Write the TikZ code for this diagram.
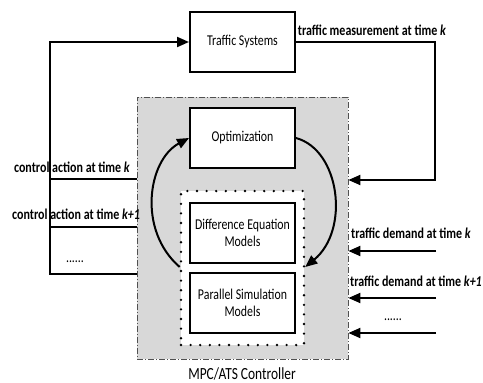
\documentclass[tikz,border=0pt]{standalone}
\usepackage{fontspec}
\setmainfont{Carlito}
\newfontfamily\boxfont[FakeStretch=0.79]{Carlito}
\newfontfamily\lblfont[FakeStretch=0.8]{Carlito}
\usetikzlibrary{arrows.meta}
\definecolor{ctrlgray}{HTML}{D8D8D8}
\definecolor{edgegray}{HTML}{505050}

\begin{document}
\begin{tikzpicture}[x=1pt,y=-1pt,
  sysbox/.style={draw=black, line width=2pt, fill=white, minimum width=105pt,
    minimum height=60pt, inner sep=0pt, align=center,
    font=\boxfont\fontsize{15}{17.5}\selectfont},
  ctrlbox/.style={draw=edgegray, line width=0.8pt, fill=ctrlgray,
    dash pattern=on 6pt off 2pt on 1pt off 2pt, minimum width=211pt,
    minimum height=262pt, inner sep=0pt},
  modelbox/.style={draw=black, line width=2.6pt, fill=white,
    dash pattern=on 0pt off 9.6pt, line cap=round, minimum width=123pt,
    minimum height=154pt, inner sep=0pt},
  flow/.style={draw=black, line width=2pt},
  tip/.style={-{Triangle[length=12pt,width=10pt]}},
  lbl/.style={font=\lblfont\bfseries\fontsize{15}{17}\selectfont, inner sep=0pt},
  dots/.style={font=\boxfont\fontsize{15}{17}\selectfont, inner sep=0pt}
]
\useasboundingbox (0,0) rectangle (483,383);

% controller frame and the models group inside it
\node[ctrlbox] (ctrl) at (242.5,228) {};
\node[modelbox] (models) at (242.5,268) {};

% blocks
\node[sysbox] (ts) at (242.5,42) {Traffic Systems};
\node[sysbox] (opt) at (242.5,138) {Optimization};
\node[sysbox] (de) at (242.5,233) {Difference Equation\\Models};
\node[sysbox] (ps) at (242.5,303) {Parallel Simulation\\Models};

\node[font=\boxfont\fontsize{17}{19}\selectfont, inner sep=0pt] (ctrlname) at (242,374) {MPC/ATS Controller};

% control actions fed back to the traffic systems
\coordinate (lbtop) at (50,42);
\coordinate (la1) at (50,179);
\coordinate (la2) at (50,227);
\coordinate (lbbot) at (50,274);
\draw[flow,tip] (ctrl.west |- lbbot) -- (lbbot) -- (lbtop) -- (ts.west);
\draw[flow] (ctrl.west |- la1) -- (la1);
\draw[flow] (ctrl.west |- la2) -- (la2);

\node[lbl] (lk) at (72,167) {control action at time \textit{k}};
\node[lbl] (lk1) at (76,214) {control action at time \textit{k+1}};
\node[dots] (ldots) at (75,262) {......};

% measurement back into the controller
\coordinate (rtop) at (435,42);
\coordinate (rbot) at (435,180);
\draw[flow,tip] (ts.east) -- (rtop) -- (rbot) -- (ctrl.east |- rbot);
\node[lbl] (meas) at (372,30) {traffic measurement at time \textit{k}};

% traffic demand inputs
\coordinate (d1) at (436,251);
\coordinate (d2) at (436,298);
\coordinate (d3) at (436,333);
\draw[flow,tip] (d1) -- (ctrl.east |- d1);
\draw[flow,tip] (d2) -- (ctrl.east |- d2);
\draw[flow,tip] (d3) -- (ctrl.east |- d3);
\node[lbl] (dk) at (411,233) {traffic demand at time \textit{k}};
\node[lbl] (dk1) at (416,281) {traffic demand at time \textit{k+1}};
\node[dots] (rdots) at (393,320) {......};

% optimization loop
\draw[flow,tip] (models.west |- 0,267) .. controls (137,230) and (148,160) .. (opt.west);
\draw[flow,tip] (opt.east) .. controls (340,150) and (350,230) .. (models.east |- 0,267);
\end{tikzpicture}
\end{document}
